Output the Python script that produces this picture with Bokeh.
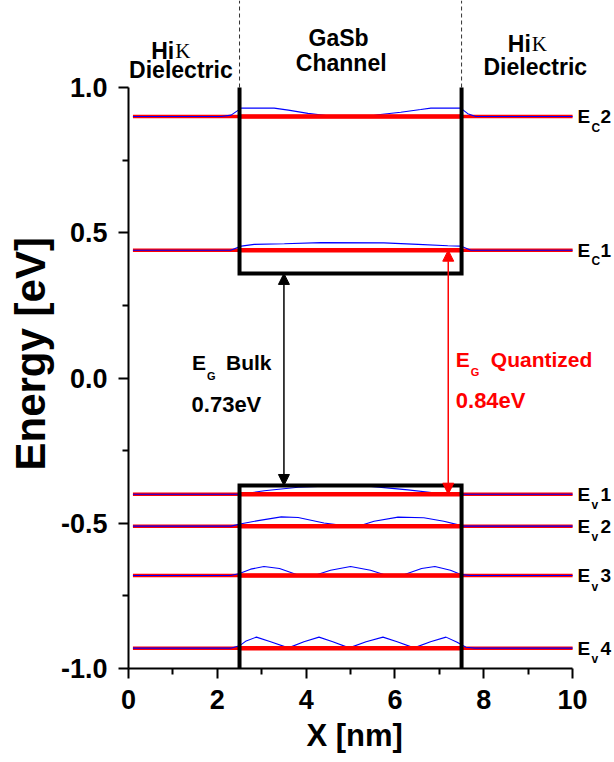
from bokeh.plotting import figure
from bokeh.models import (FixedTicker, Arrow, NormalHead, Title, CustomJSTickFormatter)
from bokeh.core.properties import value
from bokeh.embed import file_html
from bokeh.resources import INLINE

FONT = "Liberation Sans"

# ---- band edges of the GaSb well (eV) and well walls (nm) ----
well_left, well_right = 2.5, 7.5
ec_bulk = 0.36
ev_bulk = -0.37
x_start, x_end = 0.1, 10.0

# ---- quantized levels (eV) ----
level_names = ["c2", "c1", "v1", "v2", "v3", "v4"]
level_energy = [0.90, 0.44, -0.40, -0.51, -0.68, -0.93]

# ---- probability density curves, drawn on top of each level ----
ec2_x = [0.1, 2.09, 2.31, 2.54, 3.28, 3.60, 4.04, 4.49, 4.72, 5.39, 5.62, 6.13, 6.58, 6.81, 7.48, 7.64, 7.82, 10.0]
ec2_y = [0.900, 0.900, 0.905, 0.929, 0.929, 0.922, 0.911, 0.903, 0.900, 0.900, 0.906, 0.915, 0.924, 0.929, 0.929, 0.910, 0.900, 0.900]

ec1_x = [0.1, 2.30, 2.54, 2.83, 3.51, 4.34, 5.75, 6.52, 7.19, 7.48, 7.71, 10.0]
ec1_y = [0.44, 0.44, 0.454, 0.460, 0.462, 0.466, 0.465, 0.460, 0.455, 0.454, 0.44, 0.44]

ev1_x = [0.1, 2.40, 2.54, 3.06, 3.82, 4.56, 5.46, 6.29, 6.97, 7.48, 7.65, 10.0]
ev1_y = [-0.40, -0.40, -0.400, -0.388, -0.376, -0.372, -0.373, -0.385, -0.397, -0.400, -0.40, -0.40]

ev2_x = [0.1, 2.31, 2.54, 2.92, 3.44, 3.82, 4.40, 4.94, 5.17, 5.53, 6.07, 6.65, 7.10, 7.55, 10.0]
ev2_y = [-0.51, -0.51, -0.502, -0.491, -0.478, -0.480, -0.499, -0.510, -0.510, -0.493, -0.479, -0.481, -0.493, -0.51, -0.51]

ev3_x = [0.1, 2.3, 2.5, 2.75, 3.05, 3.4, 3.8, 4.2, 4.55, 5.0, 5.45, 5.8, 6.2, 6.6, 6.9, 7.25, 7.5, 7.7, 10.0]
ev3_y = [-0.68, -0.68, -0.673, -0.658, -0.649, -0.656, -0.677, -0.679, -0.662, -0.649, -0.662, -0.679, -0.677, -0.656, -0.649, -0.662, -0.677, -0.68, -0.68]

ev4_x = [0.1, 2.3, 2.5, 2.65, 2.88, 3.2, 3.6, 3.95, 4.29, 4.6, 4.97, 5.35, 5.73, 6.05, 6.43, 6.8, 7.15, 7.4, 7.6, 7.8, 10.0]
ev4_y = [-0.93, -0.93, -0.922, -0.905, -0.892, -0.908, -0.929, -0.908, -0.892, -0.908, -0.929, -0.908, -0.892, -0.908, -0.929, -0.908, -0.892, -0.910, -0.927, -0.93, -0.93]

wave_x = [ec2_x, ec1_x, ev1_x, ev2_x, ev3_x, ev4_x]
wave_y = [ec2_y, ec1_y, ev1_y, ev2_y, ev3_y, ev4_y]

# ---- gap annotations ----
bulk_gap_x = 3.5
quant_gap_x = 7.2
bulk_gap_text = "0.73eV"
quant_gap_text = "0.84eV"

# ---- axis ticks ----
x_ticks = [0, 2, 4, 6, 8, 10]
x_minor = [1, 3, 5, 7, 9]
y_ticks = [-1.0, -0.5, 0.0, 0.5, 1.0]
y_minor = [-0.75, -0.25, 0.25, 0.75]

W, H = 614, 762
left_px, bottom_px = 127, 94
px_per_nm = 44.5
px_per_ev = 290.5
x_hi = (W - left_px) / px_per_nm
y_hi = 1.0 + 87 / px_per_ev

p = figure(width=W, height=H, x_range=(0, x_hi), y_range=(-1.0, y_hi),
           output_backend="svg", toolbar_location=None,
           min_border_left=left_px, min_border_right=0, min_border_top=0,
           min_border_bottom=bottom_px)
p.outline_line_color = None
p.xgrid.visible = False
p.ygrid.visible = False
p.background_fill_color = "white"
p.border_fill_color = "white"

# axes
for ax in (p.xaxis[0], p.yaxis[0]):
    ax.axis_line_width = 2
    ax.axis_line_color = "black"
    ax.major_tick_line_width = 2
    ax.minor_tick_line_width = 2
    ax.major_tick_in = 0
    ax.major_tick_out = 10
    ax.minor_tick_in = 0
    ax.minor_tick_out = 6
    ax.major_label_text_font = FONT
    ax.major_label_text_font_style = "bold"
    ax.major_label_text_font_size = "27px"
    ax.major_label_text_color = "black"

p.yaxis.bounds = (-1.0, 1.0)
p.xaxis.bounds = (0, 10)
p.xaxis.ticker = FixedTicker(ticks=x_ticks, minor_ticks=x_minor)
p.yaxis.ticker = FixedTicker(ticks=y_ticks, minor_ticks=y_minor)
p.yaxis.formatter = CustomJSTickFormatter(code="return tick.toFixed(1);")
p.xaxis.major_label_standoff = 11
p.yaxis.major_label_standoff = 11

# axis titles
p.add_layout(Title(text="X [nm]", align="left", offset=178, text_font=FONT,
                   text_font_style="bold", text_font_size="31px", text_color="black",
                   standoff=8), "below")
p.add_layout(Title(text="Energy [eV]", align="left", offset=198, text_font=FONT,
                   text_font_style="bold", text_font_size="42px", text_color="black",
                   standoff=8), "left")

# region separators above the plot
for xw in (well_left, well_right):
    p.line([xw, xw], [1.0, y_hi], line_color="#333333", line_width=1, line_dash="4 3")

# levels: thin red lines across, blue densities, then thick red inside the well
for e in level_energy:
    p.line([x_start, x_end], [e, e], line_color="#ff0000", line_width=3.5)
for xs, ys in zip(wave_x, wave_y):
    p.line(xs, ys, line_color="#0000ff", line_width=1.1)
for e in level_energy:
    p.line([well_left, well_right], [e, e], line_color="#ff0000", line_width=4.5)

# well band edges
p.line([well_left, well_left, well_right, well_right], [1.0, ec_bulk, ec_bulk, 1.0],
       line_color="black", line_width=4, line_join="miter")
p.line([well_left, well_left, well_right, well_right], [-1.0, ev_bulk, ev_bulk, -1.0],
       line_color="black", line_width=4, line_join="miter")

# gap arrows
p.add_layout(Arrow(x_start=bulk_gap_x, y_start=ev_bulk, x_end=bulk_gap_x, y_end=ec_bulk,
                   line_color="black", line_width=1.5,
                   start=NormalHead(size=11, fill_color="black", line_color="black"),
                   end=NormalHead(size=11, fill_color="black", line_color="black")))
p.add_layout(Arrow(x_start=quant_gap_x, y_start=level_energy[2], x_end=quant_gap_x,
                   y_end=level_energy[1], line_color="#ff0000", line_width=1.5,
                   start=NormalHead(size=11, fill_color="#ff0000", line_color="#ff0000"),
                   end=NormalHead(size=11, fill_color="#ff0000", line_color="#ff0000")))


def txt(x, y, s, size, color="black", align="left", font=FONT, style="bold",
        dx=0, dy=0):
    p.text(x=[x], y=[y], text=[s], text_font=value(font), text_font_style=style,
           text_font_size=size, text_color=color, text_align=align,
           text_baseline="middle", x_offset=dx, y_offset=dy)


# region titles
txt(1.03, 1.127, "Hi", "23px", align="right")
txt(1.03, 1.127, "K", "21px", font="Liberation Serif", style="normal", dx=1)
txt(1.18, 1.059, "Dielectric", "23px", align="center")
txt(4.73, 1.169, "GaSb", "23px", align="center")
txt(4.79, 1.083, "Channel", "23px", align="center")
txt(9.06, 1.151, "Hi", "23px", align="right")
txt(9.06, 1.151, "K", "21px", font="Liberation Serif", style="normal", dx=1)
txt(9.16, 1.069, "Dielectric", "23px", align="center")

# level labels
sub_letter = {"c": "C", "v": "v"}
for name, e in zip(level_names, level_energy):
    lx = 10.11
    txt(lx, e, "E", "19px")
    txt(lx, e, sub_letter[name[0]], "12px", dx=14, dy=11)
    txt(lx, e, name[1], "19px", dx=23)

# gap labels
txt(1.43, 0.053, "E", "21px")
txt(1.43, 0.053, "G", "11px", dx=15, dy=13)
txt(1.43, 0.053, "Bulk", "21px", dx=34)
txt(1.42, -0.091, bulk_gap_text, "22px")
txt(7.37, 0.064, "E", "21px", color="#ff0000")
txt(7.37, 0.064, "G", "11px", color="#ff0000", dx=15, dy=13)
txt(7.37, 0.064, "Quantized", "21px", color="#ff0000", dx=35)
txt(7.37, -0.077, quant_gap_text, "22px", color="#ff0000")

open("out.html", "w").write(file_html(p, INLINE))
